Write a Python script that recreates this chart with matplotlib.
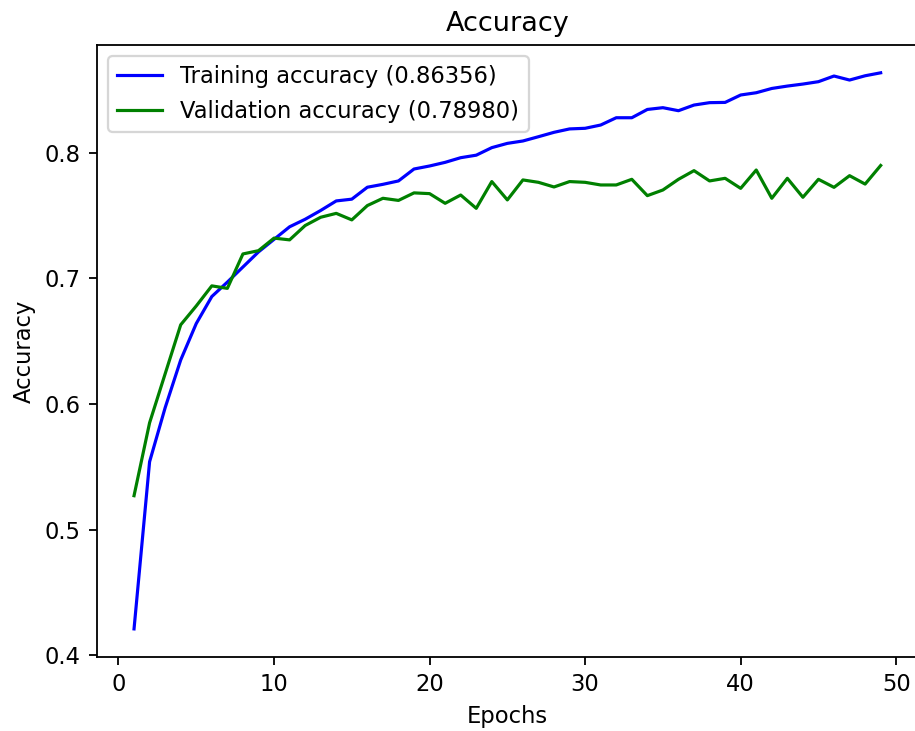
import matplotlib
matplotlib.use("Agg")
import matplotlib.pyplot as plt

epochs = list(range(1, 50))
train_acc = [0.421, 0.554, 0.597, 0.635, 0.664, 0.6855, 0.697, 0.709, 0.721, 0.731,
             0.741, 0.747, 0.754, 0.7616, 0.763, 0.7725, 0.7748, 0.7775, 0.787, 0.7894,
             0.7923, 0.796, 0.798, 0.804, 0.8074, 0.8093, 0.8127, 0.8162, 0.8189, 0.8194,
             0.822, 0.8278, 0.8278, 0.8344, 0.8358, 0.8334, 0.8379, 0.8398, 0.840, 0.8459,
             0.8477, 0.8511, 0.853, 0.8546, 0.8565, 0.861, 0.8578, 0.8612, 0.86356]
val_acc = [0.527, 0.585, 0.624, 0.663, 0.678, 0.694, 0.692, 0.7194, 0.722, 0.732,
           0.7306, 0.742, 0.7486, 0.7517, 0.7465, 0.7579, 0.7637, 0.762, 0.768, 0.7674,
           0.7597, 0.7663, 0.7557, 0.777, 0.7624, 0.7783, 0.7764, 0.7727, 0.777, 0.7764,
           0.7743, 0.7743, 0.7788, 0.7658, 0.7703, 0.7788, 0.7857, 0.7775, 0.7796, 0.7716,
           0.7862, 0.7637, 0.7796, 0.7645, 0.7788, 0.7724, 0.7817, 0.775, 0.7898]

title = "Accuracy"
xlabel = "Epochs"
ylabel = "Accuracy"

DPI = 163
W, H = 915, 731
fig = plt.figure(figsize=(W / DPI, H / DPI), dpi=DPI)
left, right, top, bottom = 96.7, 918.0, 45.0, 656.7
ax = fig.add_axes([left / W, (H - bottom) / H, (right - left) / W, (bottom - top) / H])

ax.plot(epochs, train_acc, color="blue", linewidth=1.4,
        label="Training accuracy ({:.5f})".format(train_acc[-1]))
ax.plot(epochs, val_acc, color="green", linewidth=1.4,
        label="Validation accuracy ({:.5f})".format(val_acc[-1]))

ax.set_title(title, fontsize=12)
ax.set_xlabel(xlabel)
ax.set_ylabel(ylabel)
ax.set_yticks([0.4, 0.5, 0.6, 0.7, 0.8])
ax.legend(loc="upper left")

fig.savefig("out.png", dpi=DPI)
